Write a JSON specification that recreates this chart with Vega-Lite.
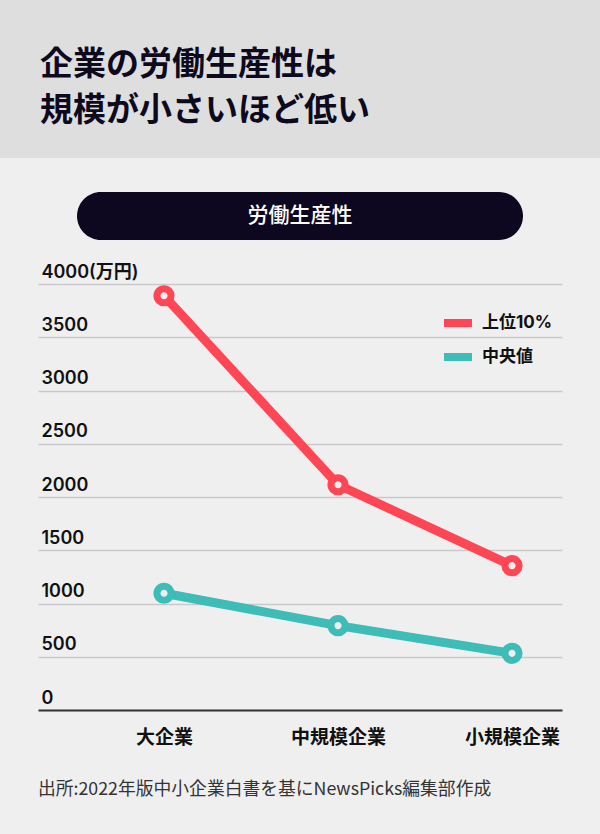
{
  "$schema": "https://vega.github.io/schema/vega-lite/v6.json",
  "background": "#efefef",
  "padding": {"left": 0, "top": 0, "right": 0, "bottom": 39},
  "config": {
    "font": "Noto Sans CJK JP",
    "view": {"stroke": null},
    "concat": {"spacing": 0}
  },
  "spacing": 23,
  "center": true,
  "vconcat": [
    {
      "spacing": 34,
      "center": true,
      "vconcat": [
        {
          "width": 600,
          "height": 158,
          "view": {"fill": "#dedede", "stroke": null},
          "title": {
            "text": ["企業の労働生産性は", "規模が小さいほど低い"],
            "orient": "top",
            "anchor": "start",
            "frame": "group",
            "offset": -128,
            "dx": 40,
            "fontSize": 33,
            "fontWeight": "bold",
            "lineHeight": 46,
            "color": "#0d0a1e",
            "font": "Noto Sans CJK JP"
          },
          "data": {"values": [{"t": ""}]},
          "mark": {"type": "text"},
          "encoding": {"text": {"field": "t"}}
        },
        {
          "width": 446,
          "height": 48,
          "view": {"fill": "#0d0820", "stroke": null, "cornerRadius": 24},
          "data": {"values": [{"label": "労働生産性"}]},
          "mark": {"type": "text", "color": "#ffffff", "fontSize": 21, "fontWeight": 500, "font": "Noto Sans CJK JP", "baseline": "middle", "align": "center"},
          "encoding": {"text": {"field": "label"}}
        }
      ]
    },
    {
      "width": 524,
      "height": 426,
      "title": {
        "text": "出所:2022年版中小企業白書を基にNewsPicks編集部作成",
        "orient": "bottom",
        "anchor": "start",
        "frame": "group",
        "offset": 34,
        "fontSize": 17.8,
        "fontWeight": "normal",
        "color": "#333333",
        "font": "Noto Sans CJK JP"
      },
      "data": {
        "values": [
          {"size": "大企業", "series": "上位10%", "value": 3890},
          {"size": "中規模企業", "series": "上位10%", "value": 2115},
          {"size": "小規模企業", "series": "上位10%", "value": 1355},
          {"size": "大企業", "series": "中央値", "value": 1096},
          {"size": "中規模企業", "series": "中央値", "value": 792},
          {"size": "小規模企業", "series": "中央値", "value": 532}
        ]
      },
      "encoding": {
        "x": {
          "field": "size",
          "type": "nominal",
          "sort": null,
          "scale": {"type": "point", "domain": ["大企業", "中規模企業", "小規模企業"], "padding": 0.5057, "align": 0.716},
          "axis": {
            "title": null,
            "domain": false,
            "ticks": false,
            "tickSize": 0,
            "grid": false,
            "labelAngle": 0,
            "labelPadding": 18,
            "labelFontSize": 19,
            "labelFontWeight": "bold",
            "labelColor": "#111111",
            "labelFont": "Noto Sans CJK JP"
          }
        },
        "y": {
          "field": "value",
          "type": "quantitative",
          "scale": {"domain": [0, 4000], "nice": false},
          "axis": {
            "title": null,
            "values": [0, 500, 1000, 1500, 2000, 2500, 3000, 3500, 4000],
            "format": "d",
            "domain": false,
            "ticks": false,
            "tickSize": 0,
            "grid": true,
            "gridColor": {"condition": {"test": "datum.value === 0", "value": "#333333"}, "value": "#c9c9cd"},
            "gridWidth": {"condition": {"test": "datum.value === 0", "value": 2}, "value": 1.5},
            "labelAlign": "left",
            "labelBaseline": "alphabetic",
            "labelPadding": -3,
            "labelOffset": -7,
            "labelFontSize": 18,
            "labelFontWeight": 600,
            "labelColor": "#111111",
            "labelFont": "Inter, Noto Sans CJK JP",
            "labelBound": false,
            "labelFlush": false,
            "labelOverlap": false,
            "labelExpr": "datum.value === 4000 ? '4000(万円)' : datum.label"
          }
        }
      },
      "layer": [
        {
          "mark": {"type": "line", "strokeWidth": 9, "strokeCap": "round", "strokeJoin": "round"},
          "encoding": {
            "color": {
              "field": "series",
              "type": "nominal",
              "scale": {"domain": ["上位10%", "中央値"], "range": ["#ff4655", "#3dbcb8"]},
              "legend": {
                "title": null,
                "orient": "none",
                "legendX": 440,
                "legendY": 305,
                "symbolType": "stroke",
                "symbolSize": 784,
                "symbolStrokeWidth": 8,
                "labelFontSize": 17,
                "labelFontWeight": "bold",
                "labelColor": "#111111",
                "labelFont": "Inter, Noto Sans CJK JP",
                "labelOffset": 6,
                "rowPadding": -6
              }
            }
          }
        },
        {
          "mark": {"type": "circle", "fill": "#efefef", "size": 200, "strokeWidth": 7, "opacity": 1},
          "encoding": {
            "stroke": {
              "field": "series",
              "type": "nominal",
              "scale": {"domain": ["上位10%", "中央値"], "range": ["#ff4655", "#3dbcb8"]},
              "legend": null
            }
          }
        }
      ]
    }
  ]
}
